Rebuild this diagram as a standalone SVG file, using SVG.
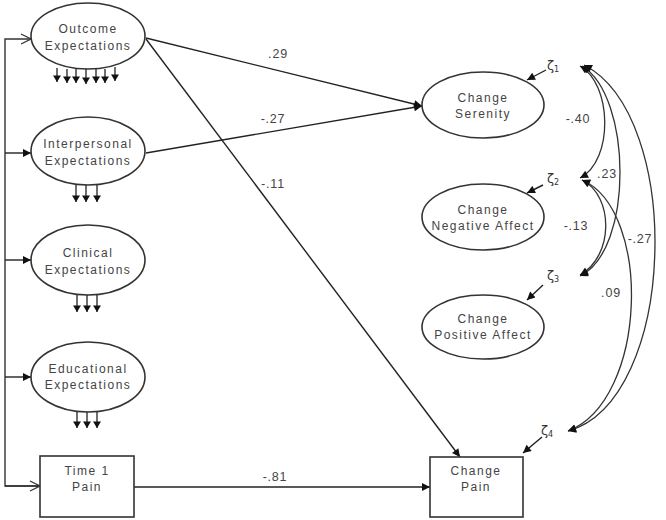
<svg xmlns="http://www.w3.org/2000/svg" width="666" height="520" viewBox="0 0 666 520">
<defs>
<style>
.n{fill:#fff;stroke:#333;stroke-width:1.6}
.t{font-family:"Liberation Sans",Arial,sans-serif;font-size:12px;fill:#444;text-anchor:middle;letter-spacing:1.5px}
.l{font-family:"Liberation Sans",Arial,sans-serif;font-size:12.5px;fill:#444;text-anchor:middle;letter-spacing:0.8px}
.z{font-family:"DejaVu Sans","Liberation Sans",sans-serif;font-size:13px;fill:#333}
.c{fill:none;stroke:#333;stroke-width:1.4}
.ci{fill:none;stroke:#222;stroke-width:1.4;marker-end:url(#fa)}
.cv{fill:none;stroke:#333;stroke-width:1.3;marker-start:url(#fa2);marker-end:url(#fa2)}
.ind{stroke:#222;stroke-width:1.3;marker-end:url(#fs)}
</style>
<marker id="fa" viewBox="0 0 10 10" refX="10" refY="5" markerWidth="10" markerHeight="8" markerUnits="userSpaceOnUse" orient="auto"><path d="M0,0 L10,5 L0,10 z" fill="#111"/></marker>
<marker id="fa2" viewBox="0 0 10 10" refX="10" refY="5" markerWidth="10" markerHeight="8" markerUnits="userSpaceOnUse" orient="auto-start-reverse"><path d="M0,0 L10,5 L0,10 z" fill="#111"/></marker>
<marker id="oa" viewBox="0 0 12 12" refX="11" refY="6" markerWidth="12" markerHeight="12" markerUnits="userSpaceOnUse" orient="auto"><path d="M1,1 L11,6 L1,11" fill="none" stroke="#333" stroke-width="1.3"/></marker>
<marker id="fs" viewBox="0 0 10 10" refX="5" refY="10" markerWidth="8" markerHeight="8" markerUnits="userSpaceOnUse" orient="0"><path d="M0,2 L10,2 L5,10 z" fill="#111"/></marker>
</defs>
<rect width="666" height="520" fill="#fff"/>

<g id="connectors">
<polyline class="c" points="40,486 5,486 5,39 31,39" marker-end="url(#oa)"/>
<line class="c" x1="5" y1="486" x2="40" y2="486" marker-end="url(#oa)"/>
<line class="ci" x1="5" y1="153" x2="31" y2="153"/>
<line class="ci" x1="5" y1="260" x2="31" y2="260"/>
<line class="ci" x1="5" y1="377" x2="31" y2="377"/>
<line class="ci" x1="146" y1="38" x2="422" y2="106"/>
<line class="ci" x1="146" y1="153" x2="422" y2="106"/>
<line class="ci" x1="146" y1="39" x2="460" y2="457"/>
<line class="ci" x1="134" y1="487" x2="430" y2="487"/>
<line class="ci" x1="546" y1="70" x2="527" y2="80"/>
<line class="ci" x1="543" y1="185" x2="527" y2="193"/>
<line class="ci" x1="543" y1="285" x2="527" y2="300"/>
<line class="ci" x1="542" y1="437" x2="523" y2="453"/>
<path class="cv" d="M580,66 C612,84 614,160 580,178"/>
<path class="cv" d="M582,66 C632,96 634,250 580,276"/>
<path class="cv" d="M584,65 C684,116 678,400 568,431"/>
<path class="cv" d="M582,180 C614,196 614,256 580,275"/>
<path class="cv" d="M582,180 C652,210 648,400 568,431"/>
<text class="l" x="278" y="58">.29</text>
<text class="l" x="273" y="123">-.27</text>
<text class="l" x="273" y="188">-.11</text>
<text class="l" x="275" y="481">-.81</text>
<text class="l" x="578" y="123">-.40</text>
<text class="l" x="607" y="178">.23</text>
<text class="l" x="576" y="230">-.13</text>
<text class="l" x="640" y="243">-.27</text>
<text class="l" x="611" y="297">.09</text>
</g>

<g id="outcome">
<ellipse class="n" cx="88" cy="36" rx="57" ry="33"/>
<text class="t" x="88" y="33">Outcome</text>
<text class="t" x="88" y="50">Expectations</text>
<line class="ind" x1="57" y1="68" x2="57" y2="82"/>
<line class="ind" x1="67" y1="69" x2="67" y2="83"/>
<line class="ind" x1="76" y1="69" x2="76" y2="83"/>
<line class="ind" x1="86" y1="69" x2="86" y2="84"/>
<line class="ind" x1="96" y1="69" x2="96" y2="83"/>
<line class="ind" x1="105" y1="69" x2="105" y2="83"/>
<line class="ind" x1="115" y1="67" x2="115" y2="81"/>
</g>
<g id="interpersonal">
<ellipse class="n" cx="88" cy="151" rx="57" ry="34"/>
<text class="t" x="88" y="148">Interpersonal</text>
<text class="t" x="88" y="165">Expectations</text>
<line class="ind" x1="76" y1="185" x2="76" y2="202"/>
<line class="ind" x1="86" y1="185" x2="86" y2="202"/>
<line class="ind" x1="97" y1="185" x2="97" y2="202"/>
</g>
<g id="clinical">
<ellipse class="n" cx="88" cy="260" rx="57" ry="35"/>
<text class="t" x="88" y="257">Clinical</text>
<text class="t" x="88" y="274">Expectations</text>
<line class="ind" x1="77" y1="295" x2="77" y2="312"/>
<line class="ind" x1="87" y1="295" x2="87" y2="312"/>
<line class="ind" x1="97" y1="295" x2="97" y2="312"/>
</g>
<g id="educational">
<ellipse class="n" cx="88" cy="377" rx="57" ry="35"/>
<text class="t" x="88" y="373">Educational</text>
<text class="t" x="88" y="389">Expectations</text>
<line class="ind" x1="77" y1="412" x2="77" y2="428"/>
<line class="ind" x1="87" y1="412" x2="87" y2="428"/>
<line class="ind" x1="97" y1="412" x2="97" y2="428"/>
</g>
<g id="time1pain">
<rect class="n" x="40" y="456" width="94" height="61"/>
<text class="t" x="87" y="475">Time 1</text>
<text class="t" x="87" y="491">Pain</text>
</g>
<g id="serenity">
<ellipse class="n" cx="483" cy="105" rx="61" ry="33"/>
<text class="t" x="483" y="102">Change</text>
<text class="t" x="483" y="118">Serenity</text>
</g>
<g id="negaffect">
<ellipse class="n" cx="483" cy="217" rx="61" ry="33"/>
<text class="t" x="483" y="214">Change</text>
<text class="t" x="483" y="230">Negative Affect</text>
</g>
<g id="posaffect">
<ellipse class="n" cx="483" cy="327" rx="61" ry="32"/>
<text class="t" x="483" y="323">Change</text>
<text class="t" x="483" y="339">Positive Affect</text>
</g>
<g id="changepain">
<rect class="n" x="430" y="457" width="93" height="60"/>
<text class="t" x="476" y="475">Change</text>
<text class="t" x="476" y="491">Pain</text>
</g>
<g id="zeta1"><text class="z" x="547" y="70">ζ<tspan font-size="8" dy="2">1</tspan></text></g>
<g id="zeta2"><text class="z" x="547" y="183">ζ<tspan font-size="8" dy="2">2</tspan></text></g>
<g id="zeta3"><text class="z" x="547" y="280">ζ<tspan font-size="8" dy="2">3</tspan></text></g>
<g id="zeta4"><text class="z" x="541" y="435">ζ<tspan font-size="8" dy="2">4</tspan></text></g>
</svg>
